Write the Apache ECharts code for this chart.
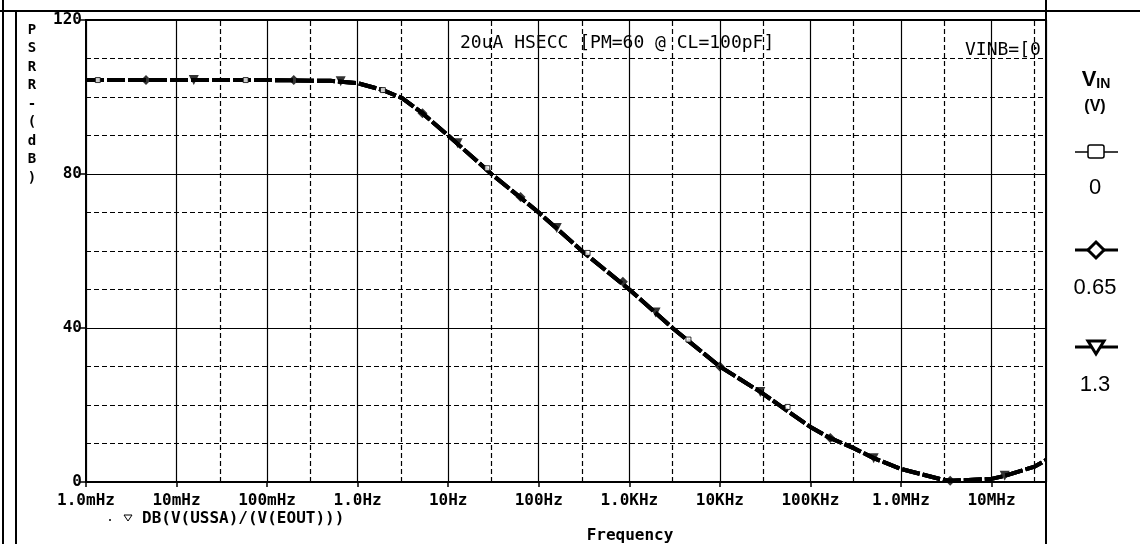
<!DOCTYPE html>
<html><head><meta charset="utf-8">
<script src="https://cdn.jsdelivr.net/npm/echarts@6/dist/echarts.min.js"></script>
<style>html,body{margin:0;padding:0;background:#fff}#c{width:1140px;height:544px}</style>
</head><body><div id="c"></div><script>
// ---- data ----
const freqHz = [1e-3, 0.1, 0.5, 1, 1.9, 3.1, 5.2, 10, 30, 100, 300, 1000, 3000, 10000, 28000,
  100000, 166000, 300000, 500000, 1e6, 1.35e6, 3e6, 3.5e6, 1e7, 1.4e7, 3e7, 4e7];
const psrrDb = [104.4, 104.4, 104.2, 103.6, 101.8, 99.7, 95.8, 90, 80, 70, 60, 50, 40, 30, 23.4,
  14.3, 11.4, 8.8, 6.2, 3.4, 2.6, 0.5, 0.3, 0.8, 1.6, 4.0, 5.7];
// the three V_IN traces coincide on the plot; markers show each trace
const squareMarkers = [[1.35e-3, 104.4], [0.058, 104.4], [1.9, 101.8], [27, 81.5], [346, 59.5],
  [4500, 37], [56000, 19.5]];
const diamondMarkers = [[4.6e-3, 104.4], [0.197, 104.4], [5.2, 95.8], [63, 74], [850, 52],
  [10000, 30], [166000, 11.4], [3.5e6, 0.3]];
const triangleMarkers = [[0.0155, 104.4], [0.65, 104.1], [12.7, 88], [158, 66], [1950, 44],
  [28000, 23.4], [500000, 6.2], [1.4e7, 1.6]];
const xTickLabels = ['1.0mHz', '10mHz', '100mHz', '1.0Hz', '10Hz', '100Hz', '1.0KHz', '10KHz',
  '100KHz', '1.0MHz', '10MHz'];
const minorGridFreqs = [3e-3, 3e-2, 0.3, 3, 30, 300, 3e3, 3e4, 3e5, 3e6, 3e7];
const vinLevels = ['0', '0.65', '1.3'];
const traceName = 'DB(V(USSA)/(V(EOUT)))';

// ---- chart ----
const chart = echarts.init(document.getElementById('c'), null, {renderer: 'canvas'});
const MONO = '"DejaVu Sans Mono", monospace';
const pts = freqHz.map((f, i) => [f, psrrDb[i]]);
const curveStyle = {color: '#000', width: 4, type: [18, 3], cap: 'butt'};

const legendIconY = [152, 250, 347];
const legendTextY = [188, 288, 385];
const LX = 1096;

const graphics = [
  {type: 'line', shape: {x1: 3, y1: 0, x2: 3, y2: 544}, style: {stroke: '#000', lineWidth: 2}},
  {type: 'line', shape: {x1: 16, y1: 11, x2: 16, y2: 544}, style: {stroke: '#000', lineWidth: 2}},
  {type: 'line', shape: {x1: 0, y1: 11, x2: 1140, y2: 11}, style: {stroke: '#000', lineWidth: 2}},
  {type: 'line', shape: {x1: 1046, y1: 0, x2: 1046, y2: 544}, style: {stroke: '#000', lineWidth: 2}},
  {type: 'text', x: 32, y: 21, style: {text: 'P\nS\nR\nR\n-\n(\nd\nB\n)', font: 'bold 14px ' + MONO,
    fill: '#000', textAlign: 'center', textVerticalAlign: 'top', lineHeight: 18.5}},
  {type: 'text', x: 460, y: 43, z: 10, style: {text: '20uA HSECC [PM=60 @ CL=100pF]', font: '18px ' + MONO,
    fill: '#000', textAlign: 'left', textVerticalAlign: 'middle'}},
  {type: 'text', x: 965, y: 50, z: 10, style: {text: 'VINB=[0', font: '18px ' + MONO,
    fill: '#000', textAlign: 'left', textVerticalAlign: 'middle'}},
  {type: 'circle', shape: {cx: 110, cy: 520, r: 1}, style: {fill: '#000'}},
  {type: 'polygon', shape: {points: [[124, 515], [132, 515], [128, 521]]}, style: {fill: '#fff', stroke: '#000', lineWidth: 1}},
  {type: 'text', x: 142, y: 519, style: {text: traceName, font: 'bold 16px ' + MONO,
    fill: '#000', textAlign: 'left', textVerticalAlign: 'middle'}},
  {type: 'text', x: 630, y: 536, style: {text: 'Frequency', font: 'bold 16px ' + MONO,
    fill: '#000', textAlign: 'center', textVerticalAlign: 'middle'}},
  {type: 'text', x: LX, y: 80, style: {text: '{a|V}{b|IN}', fill: '#000', textAlign: 'center', textVerticalAlign: 'middle',
    rich: {a: {font: 'bold 22px "Liberation Sans"', fill: '#000'}, b: {font: 'bold 14px "Liberation Sans"', fill: '#000', verticalAlign: 'bottom'}}}},
  {type: 'text', x: LX - 1, y: 107, style: {text: '(V)', font: 'bold 16px "Liberation Sans"', fill: '#000',
    textAlign: 'center', textVerticalAlign: 'middle'}}
];
legendIconY.forEach((cy, i) => {
  graphics.push({type: 'line', shape: {x1: LX - 21, y1: cy, x2: LX + 22, y2: cy},
    style: {stroke: '#000', lineWidth: i === 0 ? 1.5 : 3}});
  if (i === 0) {
    graphics.push({type: 'rect', shape: {x: LX - 8, y: cy - 7, width: 16, height: 13, r: 2},
      style: {fill: '#fff', stroke: '#000', lineWidth: 1.5}});
  } else if (i === 1) {
    graphics.push({type: 'polygon', shape: {points: [[LX, cy - 8], [LX + 8, cy], [LX, cy + 8], [LX - 8, cy]]},
      style: {fill: '#fff', stroke: '#000', lineWidth: 3}});
  } else {
    graphics.push({type: 'polygon', shape: {points: [[LX - 8, cy - 6], [LX + 8, cy - 6], [LX, cy + 7]]},
      style: {fill: '#fff', stroke: '#000', lineWidth: 3}});
  }
  graphics.push({type: 'text', x: LX - 1, y: legendTextY[i], style: {text: vinLevels[i], font: '22px "Liberation Sans"',
    fill: '#000', textAlign: 'center', textVerticalAlign: 'middle'}});
});

const option = {
  animation: false,
  backgroundColor: '#fff',
  grid: {left: 86, top: 20, right: 94, bottom: 62, show: true, borderColor: '#000', borderWidth: 2},
  xAxis: [{
    type: 'log', logBase: 10, min: 1e-3, max: 4e7, interval: 1,
    axisLine: {show: true, lineStyle: {color: '#000', width: 2}},
    axisTick: {show: true, length: 5, lineStyle: {color: '#000', width: 1.5}},
    axisLabel: {
      margin: 11, color: '#000', fontFamily: MONO, fontWeight: 'bold', fontSize: 16,
      formatter: v => { const e = Math.log10(v); const r = Math.round(e);
        return Math.abs(e - r) > 1e-6 ? '' : (xTickLabels[r + 3] || ''); }
    },
    splitLine: {show: true, lineStyle: {color: '#000', width: 1.2}}
  }],
  yAxis: [{
    type: 'value', min: 0, max: 120, interval: 10, position: 'left',
    axisLine: {show: false}, axisTick: {show: false}, axisLabel: {show: false},
    splitLine: {show: true, lineStyle: {color: '#000', width: 1.2, type: [5, 3]}}
  }, {
    type: 'value', min: 0, max: 120, interval: 40, position: 'left',
    axisLine: {show: true, lineStyle: {color: '#000', width: 2}},
    axisTick: {show: true, length: 7, lineStyle: {color: '#000', width: 1.5}},
    axisLabel: {margin: 4, color: '#000', fontFamily: MONO, fontWeight: 'bold', fontSize: 16},
    splitLine: {show: true, lineStyle: {color: '#000', width: 1.2}}
  }],
  series: [
    {type: 'line', data: [], z: 1, silent: true,
      markLine: {silent: true, symbol: ['none', 'none'], label: {show: false},
        lineStyle: {color: '#000', width: 1.2, type: [5, 3]},
        data: minorGridFreqs.map(f => ({xAxis: f}))}},
    {name: vinLevels[0], type: 'line', data: pts, showSymbol: false, lineStyle: curveStyle, z: 3},
    {name: vinLevels[1], type: 'line', data: pts, showSymbol: false, lineStyle: curveStyle, z: 3},
    {name: vinLevels[2], type: 'line', data: pts, showSymbol: false, lineStyle: curveStyle, z: 3},
    {name: vinLevels[0] + ' markers', type: 'scatter', data: squareMarkers, symbol: 'rect', symbolSize: 5, z: 4,
      itemStyle: {color: '#fff', borderColor: '#000', borderWidth: 1}},
    {name: vinLevels[1] + ' markers', type: 'scatter', data: diamondMarkers, symbol: 'path://M0,-1L1,0L0,1L-1,0Z',
      symbolSize: 10, z: 4, itemStyle: {color: '#000'}},
    {name: vinLevels[2] + ' markers', type: 'scatter', data: triangleMarkers, symbol: 'triangle', symbolRotate: 180,
      symbolSize: 10, z: 4, itemStyle: {color: '#000'}}
  ],
  graphic: graphics
};
chart.setOption(option);
</script></body></html>
